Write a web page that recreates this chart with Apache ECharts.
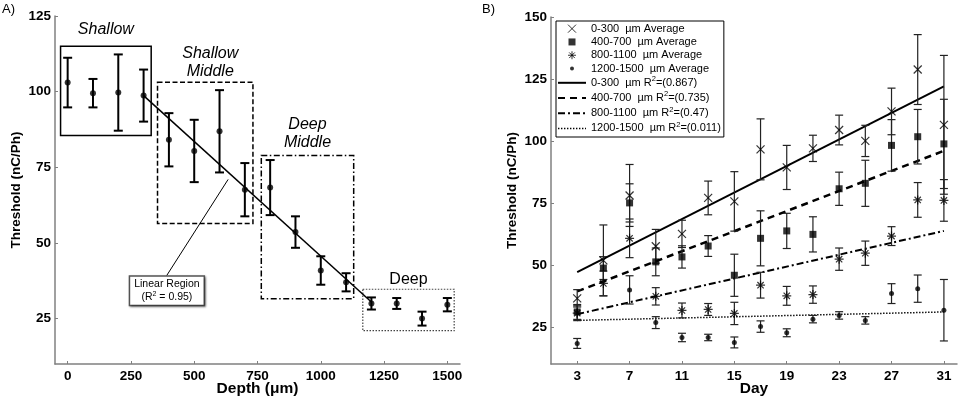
<!DOCTYPE html>
<html><head><meta charset="utf-8">
<script src="https://cdn.jsdelivr.net/npm/echarts@6/dist/echarts.min.js"></script>
<style>html,body{margin:0;padding:0;background:#fff}#c{width:960px;height:400px}</style>
</head><body><div id="c"></div>
<script>
const FONT = "'Liberation Sans', Arial, Helvetica, sans-serif";

// ---------- Panel A data ----------
const depthA = [0,100,200,300,400,500,600,700,800,900,1000,1100,1200,1300,1400,1500];
const thresholdA = [103,99.5,99.7,98.7,84.1,80.4,86.9,67.6,68.3,53.6,40.9,37,30,30,25,29.6];
const errorA = [8.2,4.7,12.6,8.6,8.8,10.3,13.6,8.8,9.1,5.2,4.7,3,2,1.8,2.3,2.2];
const fitDepthA = [300,1200];
const fitThresholdA = [98.7,30.5];
const regionNames = ['Shallow','Shallow\nMiddle','Deep\nMiddle','Deep'];
const regionDepth = [[-28,330],[355,732],[765,1130],[1166,1527]];
const regionThreshold = [[85.5,115],[56.4,103.1],[31.6,78.9],[21,34.7]];
const depthTicks = [0,250,500,750,1000,1250,1500];
const thresholdTicksA = [25,50,75,100,125];
const annotationAt = [392,34.2];
const arrowFrom = [391,39.2];
const arrowTo = [634,71];

// ---------- Panel B data ----------
const days = [3,5,7,9,11,13,15,17,19,21,23,25,27,29,31];
const groups = ['0-300','400-700','800-1100','1200-1500'];
const avg0 = [36.5,51.8,78,57.5,62.5,77,75.6,96.6,89.3,97,104.4,100,111.9,128.8,106.5];
const err0 = [3.5,14.3,12.5,6.8,5.5,6.8,12,12.3,8.9,5.3,6,6.3,9.4,14.1,28];
const avg1 = [31,48.7,75,51.2,53.2,57.6,45.8,60.7,63.7,62.3,80.7,82.9,98.2,101.7,98.8];
const err1 = [3,4.6,7.7,5.6,4.5,4.2,8.5,11.1,7.1,7.1,6.7,9.3,10.4,11,18];
const avg2 = [30.5,42.5,60.7,37.3,31.6,32,30.4,41.8,37.5,38,52.3,54.7,61.6,76.2,76];
const err2 = [3,5,7.8,3.5,3,2.4,4.5,5.2,3.8,3.5,4.5,4.9,3.8,7,8.4];
const avg3 = [18.3,null,39.9,26.7,20.7,20.7,18.7,25.1,22.6,28.1,29.6,27.6,38.4,40.4,31.7];
const err3 = [2,null,5.7,2.4,1.7,1.3,2.2,2.3,1.6,1.5,1.5,1.5,4,5.5,12.4];
const fitDays = [3,31];
const fit0 = [47.1,122];
const fit1 = [39.3,96];
const fit2 = [30.1,63.7];
const fit3 = [27.6,31];
const r2 = ['0.867','0.735','0.47','0.011'];
const dayTicks = [3,7,11,15,19,23,27,31];
const thresholdTicksB = [25,50,75,100,125,150];

const avgs = [avg0,avg1,avg2,avg3];
const errs = [err0,err1,err2,err3];
const fits = [fit0,fit1,fit2,fit3];

// ---------- styles ----------
const X_PATH = 'path://M0 0L10 10M10 0L0 10';
const STAR_PATH = 'path://M5 0L5 10M0 5L10 5M1.5 1.5L8.5 8.5M8.5 1.5L1.5 8.5';
const DOT_LEGEND = 'path://M0 0M8 8M2 4a2 2 0 1 0 4 0a2 2 0 1 0 -4 0z';
const SQUARE_LEGEND = 'path://M0 0M8 8M0.5 0.5L7.5 0.5L7.5 7.5L0.5 7.5Z';
const markerSymbols = [X_PATH,'rect',STAR_PATH,'circle'];
const markerSizes = [8,7,9,5];
const legendIcons = [X_PATH,SQUARE_LEGEND,STAR_PATH,DOT_LEGEND];
const fitLineStyles = [
  {width:2, type:'solid'},
  {width:2.5, type:[7,5]},
  {width:2, type:[7,3,2,3]},
  {width:1.5, type:[1.4,1.6]}
];
const regionStyles = [
  {type:'solid', width:1.5, color:'#000'},
  {type:[5,2.5], width:1.5, color:'#000'},
  {type:[6,2.5,1.5,2.5], width:1.5, color:'#000'},
  {type:[1.5,1.5], width:1.2, color:'#444'}
];
const regionLabelStyles = [
  {fontStyle:'italic', distance:7, offset:[0,0]},
  {fontStyle:'italic', distance:1, offset:[5,0]},
  {fontStyle:'italic', distance:3, offset:[0,0]},
  {fontStyle:'normal', distance:0, offset:[0,0]}
];

function errorRenderer(capHalf, lw, color) {
  return function (params, api) {
    const x = api.value(0), m = api.value(1), e = api.value(2);
    const top = api.coord([x, m + e]);
    const bot = api.coord([x, m - e]);
    const style = {stroke: color, lineWidth: lw, fill: null};
    return {type:'group', children:[
      {type:'line', shape:{x1:top[0], y1:top[1], x2:bot[0], y2:bot[1]}, style},
      {type:'line', shape:{x1:top[0]-capHalf, y1:top[1], x2:top[0]+capHalf, y2:top[1]}, style},
      {type:'line', shape:{x1:bot[0]-capHalf, y1:bot[1], x2:bot[0]+capHalf, y2:bot[1]}, style}
    ]};
  };
}

const axisLineStyle = {color:'#808080', width:1.5};
function valueAxis(gridIndex, min, max, ticks, margin, extra) {
  return Object.assign({
    type:'value', gridIndex, min, max,
    nameMoveOverlap:false,
    axisLine:{show:true, onZero:false, lineStyle:axisLineStyle},
    axisTick:{show:true, inside:true, length:3, customValues:ticks, lineStyle:{color:'#808080', width:1}},
    axisLabel:{customValues:ticks, margin, color:'#000', fontWeight:'bold', fontSize:13.5, fontFamily:FONT, formatter: v => String(v)},
    splitLine:{show:false},
    nameLocation:'middle',
    nameTextStyle:{color:'#000', fontWeight:'bold', fontFamily:FONT}
  }, extra);
}

const series = [];

// Panel A
series.push({
  type:'custom', xAxisIndex:0, yAxisIndex:0, silent:true, z:3,
  renderItem: errorRenderer(4.5, 2, '#000'),
  encode:{x:0, y:1},
  data: depthA.map((d,i)=>[d, thresholdA[i], errorA[i]])
});
series.push({
  type:'scatter', xAxisIndex:0, yAxisIndex:0, silent:true, z:4,
  symbol:'circle', symbolSize:6, itemStyle:{color:'#000'},
  data: depthA.map((d,i)=>[d, thresholdA[i]]),
  markPoint:{
    silent:true, symbol:'rect', symbolSize:1, itemStyle:{color:'rgba(0,0,0,0)'},
    data:[{coord:annotationAt, label:{
      show:true, position:'inside', align:'center',
      formatter:'{t|Linear Region}\n{t|(R}{u|2}{t| = 0.95)}',
      backgroundColor:'#fff', borderColor:'#555', borderWidth:1.5, padding:[1,4],
      shadowColor:'rgba(0,0,0,0.4)', shadowBlur:2, shadowOffsetX:1, shadowOffsetY:1,
      rich:{
        t:{fontSize:10.5, lineHeight:13, fontFamily:FONT, color:'#000', align:'center'},
        u:{fontSize:7, fontFamily:FONT, color:'#000', verticalAlign:'top'}
      }
    }}]
  },
  markLine:{
    silent:true, symbol:['none','arrow'], symbolSize:[0,7], animation:false,
    lineStyle:{color:'#000', width:1, type:'solid'}, label:{show:false},
    data:[[{coord:arrowFrom},{coord:arrowTo}]]
  }
});
series.push({
  type:'line', xAxisIndex:0, yAxisIndex:0, silent:true, z:2,
  symbol:'none', lineStyle:{color:'#000', width:1.5},
  data: fitDepthA.map((d,i)=>[d, fitThresholdA[i]]),
  markArea:{
    silent:true,
    data: regionNames.map((n,i)=>[
      {name:n, coord:[regionDepth[i][0], regionThreshold[i][1]],
       itemStyle:{color:'rgba(0,0,0,0)', borderColor:regionStyles[i].color, borderWidth:regionStyles[i].width, borderType:regionStyles[i].type},
       label:{show:true, position:'top', color:'#000', fontFamily:FONT, fontSize:16, lineHeight:18,
              fontStyle:regionLabelStyles[i].fontStyle, distance:regionLabelStyles[i].distance,
              offset:regionLabelStyles[i].offset, align:'center'}},
      {coord:[regionDepth[i][1], regionThreshold[i][0]]}
    ])
  }
});

// Panel B
const avgNames = groups.map(g => g + '  µm Average');
const fitNames = groups.map((g,i) => g + '  µm R²=(' + r2[i] + ')');
const legendText = {};
groups.forEach((g,i)=>{
  legendText[avgNames[i]] = '{a|' + g + '  µm Average}';
  legendText[fitNames[i]] = '{b|' + g + '  µm R}{s|2}{b|=(' + r2[i] + ')}';
});

groups.forEach((g,k)=>{
  series.push({
    type:'custom', xAxisIndex:1, yAxisIndex:1, silent:true, z:3,
    renderItem: errorRenderer(4, 1.2, '#222'),
    encode:{x:0, y:1},
    data: days.map((d,i)=>[d, avgs[k][i], errs[k][i]]).filter(p=>p[1]!=null)
  });
});
groups.forEach((g,k)=>{
  const stroked = (k===0 || k===2);
  series.push({
    name: avgNames[k], type:'scatter', xAxisIndex:1, yAxisIndex:1, silent:true, z:4,
    symbol: markerSymbols[k], symbolSize: markerSizes[k],
    itemStyle: stroked ? {color:'#000', borderColor:'#000', borderWidth:1.2} : {color:'#000', borderWidth:0},
    data: days.map((d,i)=>[d, avgs[k][i]]).filter(p=>p[1]!=null)
  });
});
groups.forEach((g,k)=>{
  series.push({
    name: fitNames[k], type:'line', xAxisIndex:1, yAxisIndex:1, silent:true, z:2,
    symbol:'none', lineStyle:Object.assign({color:'#000'}, fitLineStyles[k]),
    itemStyle:{color:'#000'},
    data: fitDays.map((d,i)=>[d, fits[k][i]])
  });
});

const legendData = [];
groups.forEach((g,k)=>{
  legendData.push({name:avgNames[k], icon:legendIcons[k],
    itemStyle:{color:'#000', borderColor:'#000', borderWidth:(k===0||k===2)?1:0}});
});
groups.forEach((g,k)=>{
  legendData.push({name:fitNames[k],
    itemStyle:{color:'rgba(0,0,0,0)', borderColor:'rgba(0,0,0,0)', borderWidth:0, opacity:0},
    lineStyle:{color:'#000', width:Math.min(fitLineStyles[k].width,2), type:fitLineStyles[k].type}});
});

const option = {
  animation:false,
  backgroundColor:'#fff',
  textStyle:{fontFamily:FONT},
  title:[
    {text:'A)', left:2, top:3, padding:0, textStyle:{fontSize:13, fontWeight:'normal', color:'#000', fontFamily:FONT}},
    {text:'B)', left:482, top:3, padding:0, textStyle:{fontSize:13, fontWeight:'normal', color:'#000', fontFamily:FONT}}
  ],
  grid:[
    {left:55, top:16, width:405, height:348, outerBoundsMode:'none', containLabel:false},
    {left:551, top:17, width:406, height:347, outerBoundsMode:'none', containLabel:false}
  ],
  xAxis:[
    valueAxis(0, -50, 1550, depthTicks, 5, {name:'Depth (μm)', nameGap:17, nameTextStyle:{color:'#000', fontWeight:'bold', fontSize:15.5, fontFamily:FONT, verticalAlign:'top'}}),
    valueAxis(1, 1, 32, dayTicks, 5, {name:'Day', nameGap:17, nameTextStyle:{color:'#000', fontWeight:'bold', fontSize:15.5, fontFamily:FONT, verticalAlign:'top'}})
  ],
  yAxis:[
    valueAxis(0, 10, 125, thresholdTicksA, 4, {name:'Threshold (nC/Ph)', nameGap:32, nameTextStyle:{color:'#000', fontWeight:'bold', fontSize:13.5, fontFamily:FONT}}),
    valueAxis(1, 10, 150, thresholdTicksB, 4, {name:'Threshold (nC/Ph)', nameGap:32, nameTextStyle:{color:'#000', fontWeight:'bold', fontSize:13.5, fontFamily:FONT}})
  ],
  legend:{
    left:556, top:21, orient:'vertical', itemWidth:28, itemHeight:8, itemGap:0,
    padding:[1,3,1,1], borderColor:'#000', borderWidth:1, backgroundColor:'#fff',
    selectedMode:false, symbolKeepAspect:true,
    data: legendData,
    formatter: name => legendText[name],
    textStyle:{fontFamily:FONT, fontSize:11, color:'#000', backgroundColor:'rgba(255,255,255,0)',
      rich:{
        a:{fontFamily:FONT, fontSize:11, lineHeight:13.3, color:'#000'},
        b:{fontFamily:FONT, fontSize:11, lineHeight:15.2, color:'#000'},
        s:{fontFamily:FONT, fontSize:7.5, color:'#000', verticalAlign:'top'}
      }}
  },
  series
};

const chart = echarts.init(document.getElementById('c'), null, {renderer:'canvas'});
chart.setOption(option);
</script>
</body></html>
